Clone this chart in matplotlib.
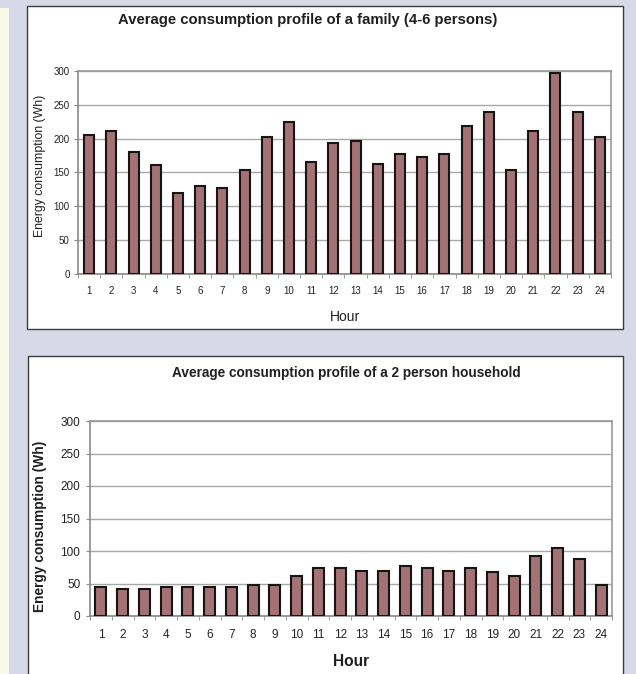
import matplotlib
matplotlib.use("Agg")
import matplotlib.pyplot as plt
from matplotlib.patches import Rectangle
import numpy as np

# hourly averages (Wh)
hours = list(range(1, 25))
family_wh = [206, 211, 181, 161, 120, 130, 127, 153, 202, 224, 165, 193,
             196, 163, 178, 173, 178, 219, 239, 153, 211, 297, 239, 202]
couple_wh = [44, 41, 41, 44, 44, 44, 44, 48, 48, 62, 74, 74,
             69, 69, 77, 74, 69, 74, 67, 62, 92, 104, 88, 48]
y_ticks = [0, 50, 100, 150, 200, 250, 300]

W, H = 636, 674
BG = "#d7d9e9"
CREAM = "#f8f8e6"
BAR = "#a47274"

plt.rcParams['font.family'] = ['Liberation Sans', 'DejaVu Sans']

fig = plt.figure(figsize=(W / 100, H / 100), dpi=100, facecolor=BG)


def px_box(x0, y0, x1, y1):
    """pixel box (top-left origin) -> figure fraction rect"""
    return [x0 / W, 1 - y1 / H, (x1 - x0) / W, (y1 - y0) / H]


def panel(x0, y0, x1, y1):
    l, b, w, h = px_box(x0, y0, x1, y1)
    fig.patches.append(Rectangle((l, b), w, h, transform=fig.transFigure,
                                 facecolor="white", edgecolor="#3c3c3c",
                                 linewidth=1.0, zorder=-5))


# cream strip on the left edge
l, b, w, h = px_box(0, 8, 9, H)
fig.patches.append(Rectangle((l, b), w, h, transform=fig.transFigure,
                             facecolor=CREAM, edgecolor="none", zorder=-5))

panel(27, 6, 623, 329)
panel(28, 356, 623, 680)


def draw_chart(rect, values, tick_size, bar_w, xpad, ypad):
    ax = fig.add_axes(rect)
    ax.set_facecolor("white")
    ax.bar(hours, values, width=bar_w, color=BAR, edgecolor="#151515",
           linewidth=1.5, zorder=3)
    ax.set_xlim(0.5, 24.5)
    ax.set_ylim(0, 300)
    ax.set_yticks(y_ticks)
    ax.set_xticks(hours)
    ax.set_xticks(np.arange(0.5, 25, 1), minor=True)
    ax.grid(axis="y", color="#a8a8a8", linewidth=1.0, zorder=0)
    ax.set_axisbelow(True)
    for side in ("top", "right"):
        ax.spines[side].set_color("#9a9a9a")
        ax.spines[side].set_linewidth(1.2)
    for side in ("left", "bottom"):
        ax.spines[side].set_color("#8a8a8a")
        ax.spines[side].set_linewidth(1.2)
    ax.tick_params(axis="x", which="major", length=0, pad=xpad,
                   labelsize=tick_size, labelcolor="#222222")
    ax.tick_params(axis="x", which="minor", length=3, color="#8a8a8a",
                   direction="out")
    ax.tick_params(axis="y", length=3, color="#8a8a8a", pad=ypad,
                   labelsize=tick_size, labelcolor="#222222")
    return ax


draw_chart(px_box(78, 71, 611, 274), family_wh, 7, 0.45, 9, 3)
draw_chart(px_box(90, 421, 612, 616), couple_wh, 8.5, 0.5, 9, 4)

# titles and axis labels
fig.text(308 / W, 1 - 20 / H, "Average consumption profile of a family (4-6 persons)",
         ha="center", va="center", fontsize=10.7, fontweight="bold", color="#202020")
fig.text(40 / W, 1 - 166 / H, "Energy consumption (Wh)", rotation=90,
         ha="center", va="center", fontsize=8.8, color="#202020")
fig.text(345 / W, 1 - 317 / H, "Hour", ha="center", va="center",
         fontsize=10, color="#202020")

fig.text(346 / W, 1 - 373 / H, "Average consumption profile of a 2 person household",
         ha="center", va="center", fontsize=9.8, fontweight="bold", color="#202020")
fig.text(40 / W, 1 - 526 / H, "Energy consumption (Wh)", rotation=90,
         ha="center", va="center", fontsize=9.9, fontweight="bold", color="#202020")
fig.text(351 / W, 1 - 662 / H, "Hour", ha="center", va="center",
         fontsize=11.2, fontweight="bold", color="#202020")

fig.savefig("out.png", dpi=100, facecolor=BG)
